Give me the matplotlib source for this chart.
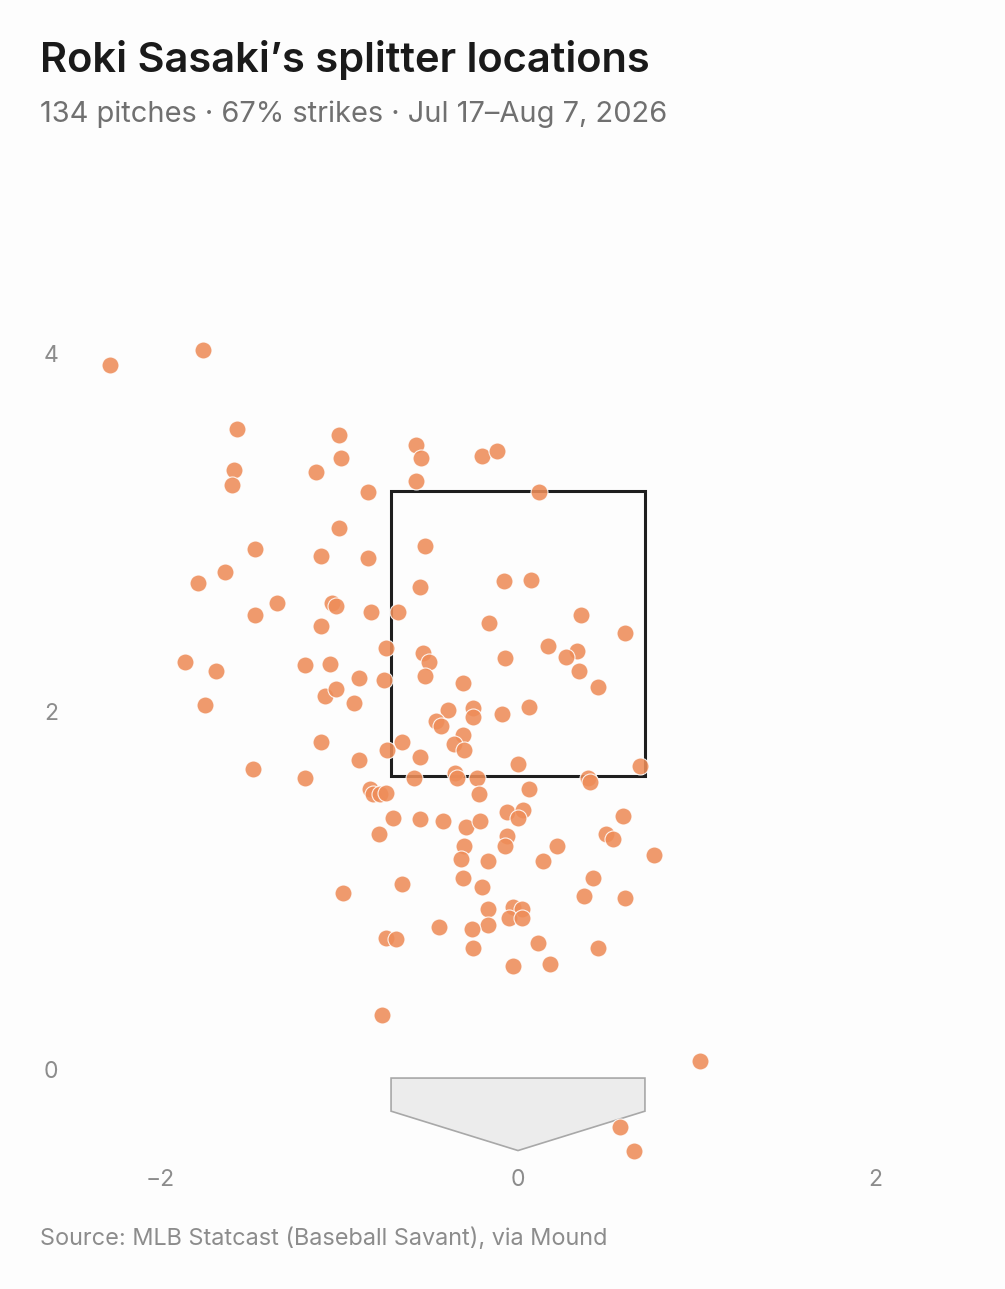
import matplotlib
matplotlib.use("Agg")
import matplotlib.pyplot as plt
from matplotlib.patches import Rectangle, Polygon

plt.rcParams['font.family'] = ['Inter', 'DejaVu Sans']

title = "Roki Sasaki\u2019s splitter locations"
subtitle = "134 pitches \u00b7 67% strikes \u00b7 Jul 17\u2013Aug 7, 2026"
source = "Source: MLB Statcast (Baseball Savant), via Mound"

plate_x = [-2.28, -1.76, -1.57, -1.59, -1.60, -1.13, -1.00, -0.99, -1.00, -1.47,
           -1.10, -1.64, -1.79, -1.35, -1.47, -1.04, -1.02, -0.57, -0.54, -0.20,
           -0.12, -0.57, -0.84, 0.12, -0.52, -0.84, -0.55, -0.08, 0.07, -0.82,
           -0.67, -0.16, 0.35, -1.10, -1.86, -1.69, -1.19, -1.05, -1.75, -1.08,
           -1.02, -1.10, -1.48, -1.19, -0.74, -0.53, -0.50, -0.52, -0.07, -0.89,
           -0.75, -0.31, -0.92, -0.39, -0.25, -0.25, -0.09, 0.06, -0.46, -0.43,
           -0.31, -0.36, -0.30, -0.65, -0.73, -0.55, -0.89, 0.00, -0.58, -0.35,
           -0.34, -0.23, -0.83, -0.81, -0.77, -0.74, -0.22, 0.06, -0.06, 0.03,
           0.60, 0.17, 0.33, 0.27, 0.34, 0.45, 0.68, 0.39, 0.40, -0.70,
           -0.55, -0.42, -0.78, -0.65, -0.98, -0.44, -0.74, -0.68, -0.76, -0.29,
           -0.21, 0.00, 0.59, -0.06, -0.07, 0.49, 0.53, -0.30, -0.32, -0.17,
           0.22, 0.14, 0.76, -0.31, -0.20, 0.42, 0.37, 0.60, -0.17, -0.03,
           0.02, -0.05, 0.02, -0.17, -0.26, 0.11, -0.25, 0.45, -0.03, 0.18,
           1.02, 0.57, 0.65]
plate_z = [3.94, 4.02, 3.58, 3.35, 3.27, 3.34, 3.55, 3.42, 3.03, 2.91,
           2.87, 2.78, 2.72, 2.61, 2.54, 2.61, 2.59, 3.49, 3.42, 3.43,
           3.46, 3.29, 3.23, 3.23, 2.93, 2.86, 2.70, 2.73, 2.74, 2.56,
           2.56, 2.50, 2.54, 2.48, 2.28, 2.23, 2.26, 2.27, 2.04, 2.09,
           2.13, 1.83, 1.68, 1.63, 2.36, 2.33, 2.28, 2.20, 2.30, 2.19,
           2.18, 2.16, 2.05, 2.01, 2.02, 1.97, 1.99, 2.03, 1.95, 1.92,
           1.87, 1.82, 1.79, 1.83, 1.79, 1.75, 1.73, 1.71, 1.63, 1.66,
           1.63, 1.63, 1.57, 1.54, 1.54, 1.55, 1.54, 1.57, 1.44, 1.45,
           2.44, 2.37, 2.34, 2.31, 2.23, 2.14, 1.70, 1.63, 1.61, 1.41,
           1.40, 1.39, 1.32, 1.04, 0.99, 0.80, 0.74, 0.73, 0.31, 1.36,
           1.39, 1.41, 1.42, 1.31, 1.25, 1.32, 1.29, 1.25, 1.18, 1.17,
           1.25, 1.17, 1.20, 1.07, 1.02, 1.07, 0.97, 0.96, 0.90, 0.91,
           0.90, 0.85, 0.85, 0.81, 0.79, 0.71, 0.68, 0.68, 0.58, 0.59,
           0.05, -0.32, -0.45]

zone_left, zone_right = -0.71, 0.71
zone_bottom, zone_top = 1.64, 3.235
plate_shape_x = [-0.71, 0.71, 0.71, 0.0, -0.71]
plate_shape_y = [-0.045, -0.045, -0.23, -0.45, -0.23]

xticks = [-2, 0, 2]
xticklabels = ["\u22122", "0", "2"]
yticks = [0, 2, 4]
yticklabels = ["0", "2", "4"]

bg = "#FDFDFD"
fig = plt.figure(figsize=(10.05, 12.89), dpi=100, facecolor=bg)
ax = fig.add_axes([71/1005, 129.5/1289, 894/1005, 895/1289], facecolor=bg)
ax.set_xlim(-2.5, 2.5)
ax.set_ylim(-0.5, 4.5)

plate = Polygon(list(zip(plate_shape_x, plate_shape_y)), closed=True,
                facecolor="#ECECEC", edgecolor="#A8A8A8", linewidth=1.2, zorder=1)
ax.add_patch(plate)
zone = Rectangle((zone_left, zone_bottom), zone_right - zone_left, zone_top - zone_bottom,
                 fill=False, edgecolor="#1E1E1E", linewidth=2.2, zorder=2)
ax.add_patch(zone)

ax.scatter(plate_x, plate_z, s=150, color="#EE8D59", alpha=0.88,
           edgecolors="white", linewidths=0.8, zorder=3, clip_on=False)

for s in ax.spines.values():
    s.set_visible(False)
ax.set_xticks(xticks)
ax.set_xticklabels(xticklabels)
ax.set_yticks(yticks)
ax.set_yticklabels(yticklabels)
ax.tick_params(length=0, labelsize=16.5, labelcolor="#8C8C8C")
ax.tick_params(axis="x", pad=7)
ax.tick_params(axis="y", pad=9)

fig.text(40/1005, 1 - 72/1289, title, fontsize=30, fontweight="semibold",
         color="#1A1A1A", ha="left", va="baseline")
fig.text(40/1005, 1 - 122/1289, subtitle, fontsize=20.9, color="#707070",
         ha="left", va="baseline")
fig.text(40/1005, 1 - 1245/1289, source, fontsize=16.9, color="#8C8C8C",
         ha="left", va="baseline")

fig.savefig("out.png", dpi=100, facecolor=bg)
